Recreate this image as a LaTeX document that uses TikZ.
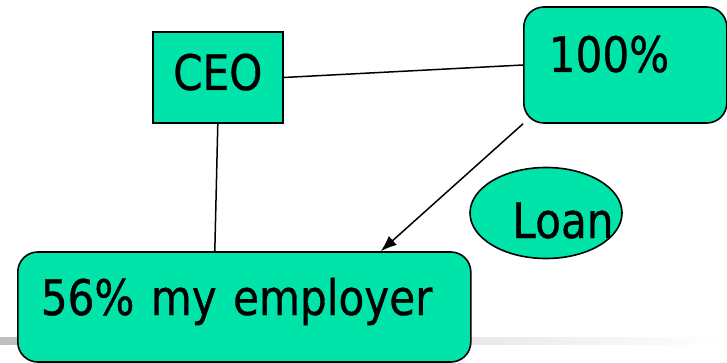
\documentclass[tikz,border=0pt]{standalone}
\usepackage{fontspec}
\setmainfont{DejaVu Sans}[FakeStretch=0.86,FakeBold=0.6]
\usetikzlibrary{shapes.geometric,arrows.meta}
\definecolor{boxgreen}{RGB}{0,228,170}
\definecolor{bandgray}{RGB}{190,190,190}
\tikzset{
  greenshape/.style={draw=black, line width=1.6pt, fill=boxgreen, inner ysep=0pt,
    font=\fontsize{49}{55}\selectfont},
  link/.style={draw=black, line width=1.5pt},
}
\begin{document}
\begin{tikzpicture}[x=1pt,y=-1pt]
\useasboundingbox (0,0) rectangle (727,363);
\shade[left color=bandgray, right color=white] (0,337) rectangle (727,344);
% CEO box
\node[greenshape, rectangle, anchor=base west, inner xsep=0pt, text width=130pt, align=center,
      text height=58pt, text depth=33pt] (ceo) at (152,90) {CEO};
% 100% box
\node[greenshape, rectangle, rounded corners=20pt, anchor=base west, inner xsep=25pt,
      text width=153pt, align=left, text height=65pt, text depth=51pt] (pct) at (523,72) {100\%};
% employer box
\node[greenshape, rectangle, rounded corners=20pt, anchor=base west, inner xsep=23pt,
      text width=407pt, align=left, text height=63pt, text depth=47pt] (emp) at (17,315) {56\% my employer};
% Loan ellipse
\node[greenshape, ellipse, inner sep=0pt, minimum width=152pt, minimum height=91pt,
      text height=50pt, text depth=0pt] (loan) at (546,213) {\makebox[0pt]{\hspace*{34pt}Loan}};
% connectors
\draw[link] (ceo.east) -- (pct.west);
\draw[link] (ceo.south) -- ([xshift=-29.5pt]emp.north);
\draw[link, -{Latex[length=16pt,width=12pt]}] (pct.south west) -- ([xshift=136.5pt]emp.north);
\end{tikzpicture}
\end{document}
